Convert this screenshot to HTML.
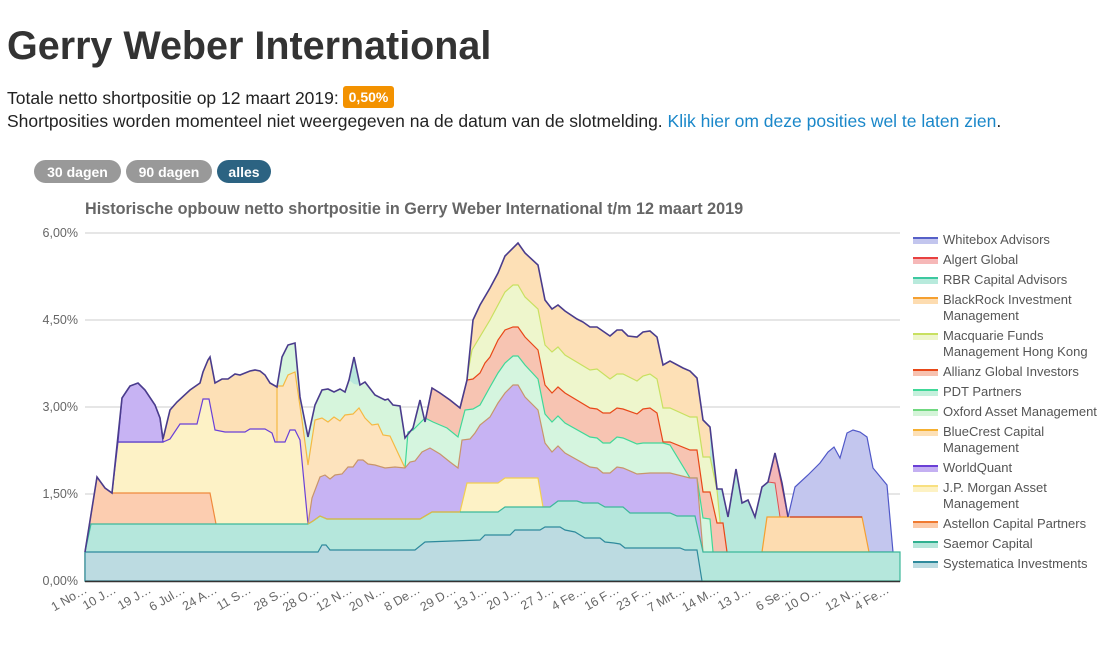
<!DOCTYPE html>
<html><head><meta charset="utf-8">
<style>
body{margin:0;background:#fff;font-family:"Liberation Sans",Arial,sans-serif;}
svg text{font-family:"Liberation Sans",Arial,sans-serif;}
</style></head>
<body>
<svg width="1114" height="640" viewBox="0 0 1114 640" xmlns="http://www.w3.org/2000/svg">
<text x="7" y="59" font-size="39.5" font-weight="bold" fill="#333">Gerry Weber International</text>
<text x="7" y="104" font-size="17.5" fill="#222">Totale netto shortpositie op 12 maart 2019:</text>
<rect x="343" y="86" width="51" height="22" rx="3" fill="#f39200"/>
<text x="368.5" y="102" font-size="14" font-weight="bold" fill="#fff" text-anchor="middle">0,50%</text>
<text x="7" y="127" font-size="17.5" fill="#222">Shortposities worden momenteel niet weergegeven na de datum van de slotmelding. <tspan fill="#1a87c9">Klik hier om deze posities wel te laten zien</tspan>.</text>
<rect x="34" y="160" width="87" height="23" rx="11.5" fill="#999"/>
<text x="77.5" y="177" font-size="14" font-weight="bold" fill="#fff" text-anchor="middle">30 dagen</text>
<rect x="126" y="160" width="86" height="23" rx="11.5" fill="#999"/>
<text x="169" y="177" font-size="14" font-weight="bold" fill="#fff" text-anchor="middle">90 dagen</text>
<rect x="217" y="160" width="54" height="23" rx="11.5" fill="#2c6382"/>
<text x="244" y="177" font-size="14" font-weight="bold" fill="#fff" text-anchor="middle">alles</text>
<text x="85" y="214" font-size="16.2" font-weight="bold" fill="#666">Historische opbouw netto shortpositie in Gerry Weber International t/m 12 maart 2019</text>

<g stroke="#ccc" stroke-width="1">
<line x1="85" y1="233" x2="900" y2="233"/><line x1="85" y1="320" x2="900" y2="320"/>
<line x1="85" y1="407" x2="900" y2="407"/><line x1="85" y1="494" x2="900" y2="494"/>
</g>
<g font-size="12.5" fill="#666" text-anchor="end">
<text x="78" y="237">6,00%</text><text x="78" y="324">4,50%</text><text x="78" y="411">3,00%</text><text x="78" y="498">1,50%</text><text x="78" y="585">0,00%</text>
</g>

<polygon fill="#fde0b6" points="85,581 85,552 97,477 105,488 112,493 122,398 130,386 138,383 145,390 155,405 160,418 163,439 170,410 177,402 190,390 200,383 203,372 208,360 210,357 215,383 222,379 228,379 235,374 240,375 250,371 255,370 260,371 265,375 270,383 277,387 282,357 288,345 295,343 300,397 308,437 315,405 322,390 328,389 334,392 340,389 345,392 349,380 354,357 360,385 365,382 375,395 385,400 388,399 393,405 400,406 405,438 413,428 420,400 425,422 432,388 440,393 450,400 460,408 467,380 473,320 480,305 490,288 498,273 505,256 518,243 525,253 538,265 545,300 552,309 558,305 565,311 577,319 583,322 590,327 597,327 610,336 617,330 622,330 628,336 637,337 643,332 650,331 657,337 663,365 670,361 683,368 690,371 697,378 703,420 710,427 717,489 722,489 728,517 736,469 742,503 748,500 755,517 762,487 768,482 775,453 782,483 788,517 795,487 808,475 820,463 828,452 834,447 840,458 847,433 853,430 860,432 867,437 873,468 887,485 893,552 900,552 900,581"/>
<polygon fill="#d6f5dc" points="277,581 277,387 282,357 288,345 295,343 300,397 308,437 315,405 322,390 328,389 334,392 340,389 345,392 349,380 354,357 360,385 365,382 375,395 385,400 388,399 393,405 400,406 405,438 413,428 420,400 425,422 432,388 440,393 450,400 460,408 467,380 467,581"/>
<polygon fill="#b8e8dc" points="349,380 354,357 360,385 354,384"/>
<polygon fill="#b8e8dc" points="710,581 710,427 717,489 722,489 728,517 736,469 742,503 748,500 755,517 762,487 768,482 775,483 780,517 788,517 788,581"/>
<polygon fill="#f4b8b8" stroke="#e05050" stroke-width="1" points="768,482 775,453 788,517 780,517 775,483"/>
<polygon fill="#c3c6ee" stroke="#5058c8" stroke-width="1.2" points="788,552 788,517 795,487 808,475 820,463 828,452 834,447 840,458 847,433 853,430 860,432 867,437 873,468 887,485 893,552"/>
<polygon fill="#fddcb0" stroke="#f5a030" stroke-width="1.2" points="762,552 767,517 862,517 869,552"/>
<line x1="790" y1="517" x2="862" y2="517" stroke="#d04020" stroke-width="1.2"/>
<polygon fill="#eef6cc" stroke="#c8e060" stroke-width="1.2" points="467,581 467,377 472,350 490,320 498,305 505,292 513,285 518,285 525,297 538,309 545,345 552,352 558,347 565,355 590,370 597,369 610,379 617,374 623,374 637,381 643,376 650,374 657,379 663,408 670,408 690,417 697,417 703,457 710,457 717,490 723,552 723,581"/>
<polygon fill="#f7c4b2" stroke="#e84818" stroke-width="1.2" points="425,581 425,422 432,388 440,393 450,400 460,408 467,380 473,379 480,373 485,363 490,357 498,340 505,330 513,327 518,327 525,337 538,350 545,385 552,393 558,387 565,393 590,408 597,409 603,413 610,413 617,408 623,409 637,414 643,409 650,408 657,413 663,442 670,442 690,450 697,450 703,492 710,492 717,523 723,523 727,552 727,581"/>
<polygon fill="#d5f5df" stroke="#40d898" stroke-width="1.2" points="405,581 405,468 408,432 413,430 425,418 433,422 447,428 458,437 465,410 473,409 480,405 490,387 498,373 505,363 513,356 518,356 525,365 538,379 545,414 552,422 558,416 565,423 590,437 597,438 603,443 610,443 617,437 623,438 637,444 643,443 663,443 670,445 690,478 697,478 703,518 710,519 713,552 713,581"/>
<polygon fill="#fde3bd" stroke="#f5b942" stroke-width="1.2" points="277,581 277,386 283,386 288,375 295,372 302,420 308,465 315,420 322,418 328,422 334,417 340,421 345,415 353,414 359,408 365,418 372,425 378,424 383,435 390,436 405,468 405,581"/>
<polygon fill="#fdf2c6" stroke="#6a40d8" stroke-width="1.2" points="112,581 112,493 118,442 163,442 170,439 180,424 197,424 203,399 209,399 215,430 225,432 245,432 250,429 265,429 272,433 275,442 285,442 290,430 295,430 300,440 308,524 308,581"/>
<polygon fill="#c7b3f3" stroke="#5a3fc8" stroke-width="1.2" points="118,442 122,398 130,386 138,383 145,390 155,405 160,418 163,442"/>
<polygon fill="#c7b3f3" stroke="#c8956a" stroke-width="1.2" points="308,581 308,524 312,498 320,477 325,475 330,479 335,475 342,474 348,467 353,467 358,460 363,460 368,464 375,465 385,468 395,467 405,468 410,462 415,461 422,452 430,448 440,454 450,462 458,468 462,440 470,439 475,433 480,425 490,417 498,403 505,393 513,385 518,385 525,397 538,410 545,443 552,452 558,446 565,453 590,467 597,468 603,473 610,473 617,467 623,468 637,474 650,473 670,473 690,478 697,478 703,552 703,581"/>
<polygon fill="#fccdb0" stroke="#f08a3c" stroke-width="1.2" points="85,581 85,552 97,477 105,488 112,493 210,493 216,524 216,581"/>
<polygon fill="#fdf2c6" stroke="#f2cf50" stroke-width="1.2" points="460,581 460,512 467,483 498,483 505,478 538,478 543,507 552,507 552,581"/>
<polygon fill="#b5e7dc" stroke="#3cb89a" stroke-width="1.2" points="85,581 85,552 91,524 308,524 313,521 320,516 327,519 335,519 420,519 432,512 498,512 505,507 550,507 558,501 577,501 583,503 598,503 605,507 623,507 630,513 670,513 677,516 695,516 703,552 900,552 900,581"/>
<polyline fill="none" stroke="#e8b840" stroke-width="1.2" points="308,524 313,521 320,516 327,519 335,519 420,519 432,512 460,512"/>
<polygon fill="#bcdbe1" stroke="#2e8a9c" stroke-width="1.2" points="85,581 85,552 318,552 322,545 326,545 330,550 415,550 425,542 480,540 485,535 510,535 515,530 540,530 545,527 560,527 565,530 575,532 580,535 585,538 600,538 605,542 614,543 620,544 625,548 680,548 685,550 697,550 702,581"/>
<polyline fill="none" stroke="#4a3c8c" stroke-width="1.6" points="85,552 97,477 105,488 112,493 122,398 130,386 138,383 145,390 155,405 160,418 163,439 170,410 177,402 190,390 200,383 203,372 208,360 210,357 215,383 222,379 228,379 235,374 240,375 250,371 255,370 260,371 265,375 270,383 277,387 282,357 288,345 295,343 300,397 308,437 315,405 322,390 328,389 334,392 340,389 345,392 349,380 354,357 360,385 365,382 375,395 385,400 388,399 393,405 400,406 405,438 413,428 420,400 425,422 432,388 440,393 450,400 460,408 467,380 473,320 480,305 490,288 498,273 505,256 518,243 525,253 538,265 545,300 552,309 558,305 565,311 577,319 583,322 590,327 597,327 610,336 617,330 622,330 628,336 637,337 643,332 650,331 657,337 663,365 670,361 683,368 690,371 697,378 703,420 710,427 717,489 722,489 728,517 736,469 742,503 748,500 755,517 762,487 768,482 775,453 782,483 788,517"/>
<line x1="85" y1="581.5" x2="900" y2="581.5" stroke="#333" stroke-width="1.5"/>

<g font-size="12.5" fill="#666" text-anchor="end">
<text transform="translate(88,592) rotate(-30)">1 No…</text>
<text transform="translate(117,592) rotate(-30)">10 J…</text>
<text transform="translate(152,592) rotate(-30)">19 J…</text>
<text transform="translate(186,592) rotate(-30)">6 Jul…</text>
<text transform="translate(218,592) rotate(-30)">24 A…</text>
<text transform="translate(252,592) rotate(-30)">11 S…</text>
<text transform="translate(290,592) rotate(-30)">28 S…</text>
<text transform="translate(320,592) rotate(-30)">28 O…</text>
<text transform="translate(353,592) rotate(-30)">12 N…</text>
<text transform="translate(386,592) rotate(-30)">20 N…</text>
<text transform="translate(421,592) rotate(-30)">8 De…</text>
<text transform="translate(457,592) rotate(-30)">29 D…</text>
<text transform="translate(488,592) rotate(-30)">13 J…</text>
<text transform="translate(521,592) rotate(-30)">20 J…</text>
<text transform="translate(555,592) rotate(-30)">27 J…</text>
<text transform="translate(587,592) rotate(-30)">4 Fe…</text>
<text transform="translate(620,592) rotate(-30)">16 F…</text>
<text transform="translate(652,592) rotate(-30)">23 F…</text>
<text transform="translate(686,592) rotate(-30)">7 Mrt…</text>
<text transform="translate(720,592) rotate(-30)">14 M…</text>
<text transform="translate(752,592) rotate(-30)">13 J…</text>
<text transform="translate(792,592) rotate(-30)">6 Se…</text>
<text transform="translate(822,592) rotate(-30)">10 O…</text>
<text transform="translate(862,592) rotate(-30)">12 N…</text>
<text transform="translate(890,592) rotate(-30)">4 Fe…</text>
</g>

<g font-size="13" fill="#555">
<rect x="913" y="237" width="25" height="2" fill="#5560c8"/><rect x="913" y="239" width="25" height="5" fill="#c3c6ee"/><text x="943" y="244">Whitebox Advisors</text>
<rect x="913" y="257" width="25" height="2" fill="#e84040"/><rect x="913" y="259" width="25" height="5" fill="#f6b8b8"/><text x="943" y="264">Algert Global</text>
<rect x="913" y="277" width="25" height="2" fill="#3cc8a0"/><rect x="913" y="279" width="25" height="5" fill="#b8eadc"/><text x="943" y="284">RBR Capital Advisors</text>
<rect x="913" y="297" width="25" height="2" fill="#f5a030"/><rect x="913" y="299" width="25" height="5" fill="#fddcb0"/><text x="943" y="304">BlackRock Investment</text><text x="943" y="320">Management</text>
<rect x="913" y="333" width="25" height="2" fill="#c8e060"/><rect x="913" y="335" width="25" height="5" fill="#eef6cc"/><text x="943" y="340">Macquarie Funds</text><text x="943" y="356">Management Hong Kong</text>
<rect x="913" y="369" width="25" height="2" fill="#e84818"/><rect x="913" y="371" width="25" height="5" fill="#f7c2b0"/><text x="943" y="376">Allianz Global Investors</text>
<rect x="913" y="389" width="25" height="2" fill="#40d898"/><rect x="913" y="391" width="25" height="5" fill="#c4f0dc"/><text x="943" y="396">PDT Partners</text>
<rect x="913" y="409" width="25" height="2" fill="#70d880"/><rect x="913" y="411" width="25" height="5" fill="#d4f4d8"/><text x="943" y="416">Oxford Asset Management</text>
<rect x="913" y="429" width="25" height="2" fill="#f5b030"/><rect x="913" y="431" width="25" height="5" fill="#fde0b6"/><text x="943" y="436">BlueCrest Capital</text><text x="943" y="452">Management</text>
<rect x="913" y="465" width="25" height="2" fill="#6a3fd6"/><rect x="913" y="467" width="25" height="5" fill="#c4b0f2"/><text x="943" y="472">WorldQuant</text>
<rect x="913" y="485" width="25" height="2" fill="#f8e080"/><rect x="913" y="487" width="25" height="5" fill="#fdf2c4"/><text x="943" y="492">J.P. Morgan Asset</text><text x="943" y="508">Management</text>
<rect x="913" y="521" width="25" height="2" fill="#f07a30"/><rect x="913" y="523" width="25" height="5" fill="#fccaa8"/><text x="943" y="528">Astellon Capital Partners</text>
<rect x="913" y="541" width="25" height="2" fill="#30b090"/><rect x="913" y="543" width="25" height="5" fill="#b5e6da"/><text x="943" y="548">Saemor Capital</text>
<rect x="913" y="561" width="25" height="2" fill="#2e8a9c"/><rect x="913" y="563" width="25" height="5" fill="#bcdbe1"/><text x="943" y="568">Systematica Investments</text>
</g>
</svg>
</body></html>
